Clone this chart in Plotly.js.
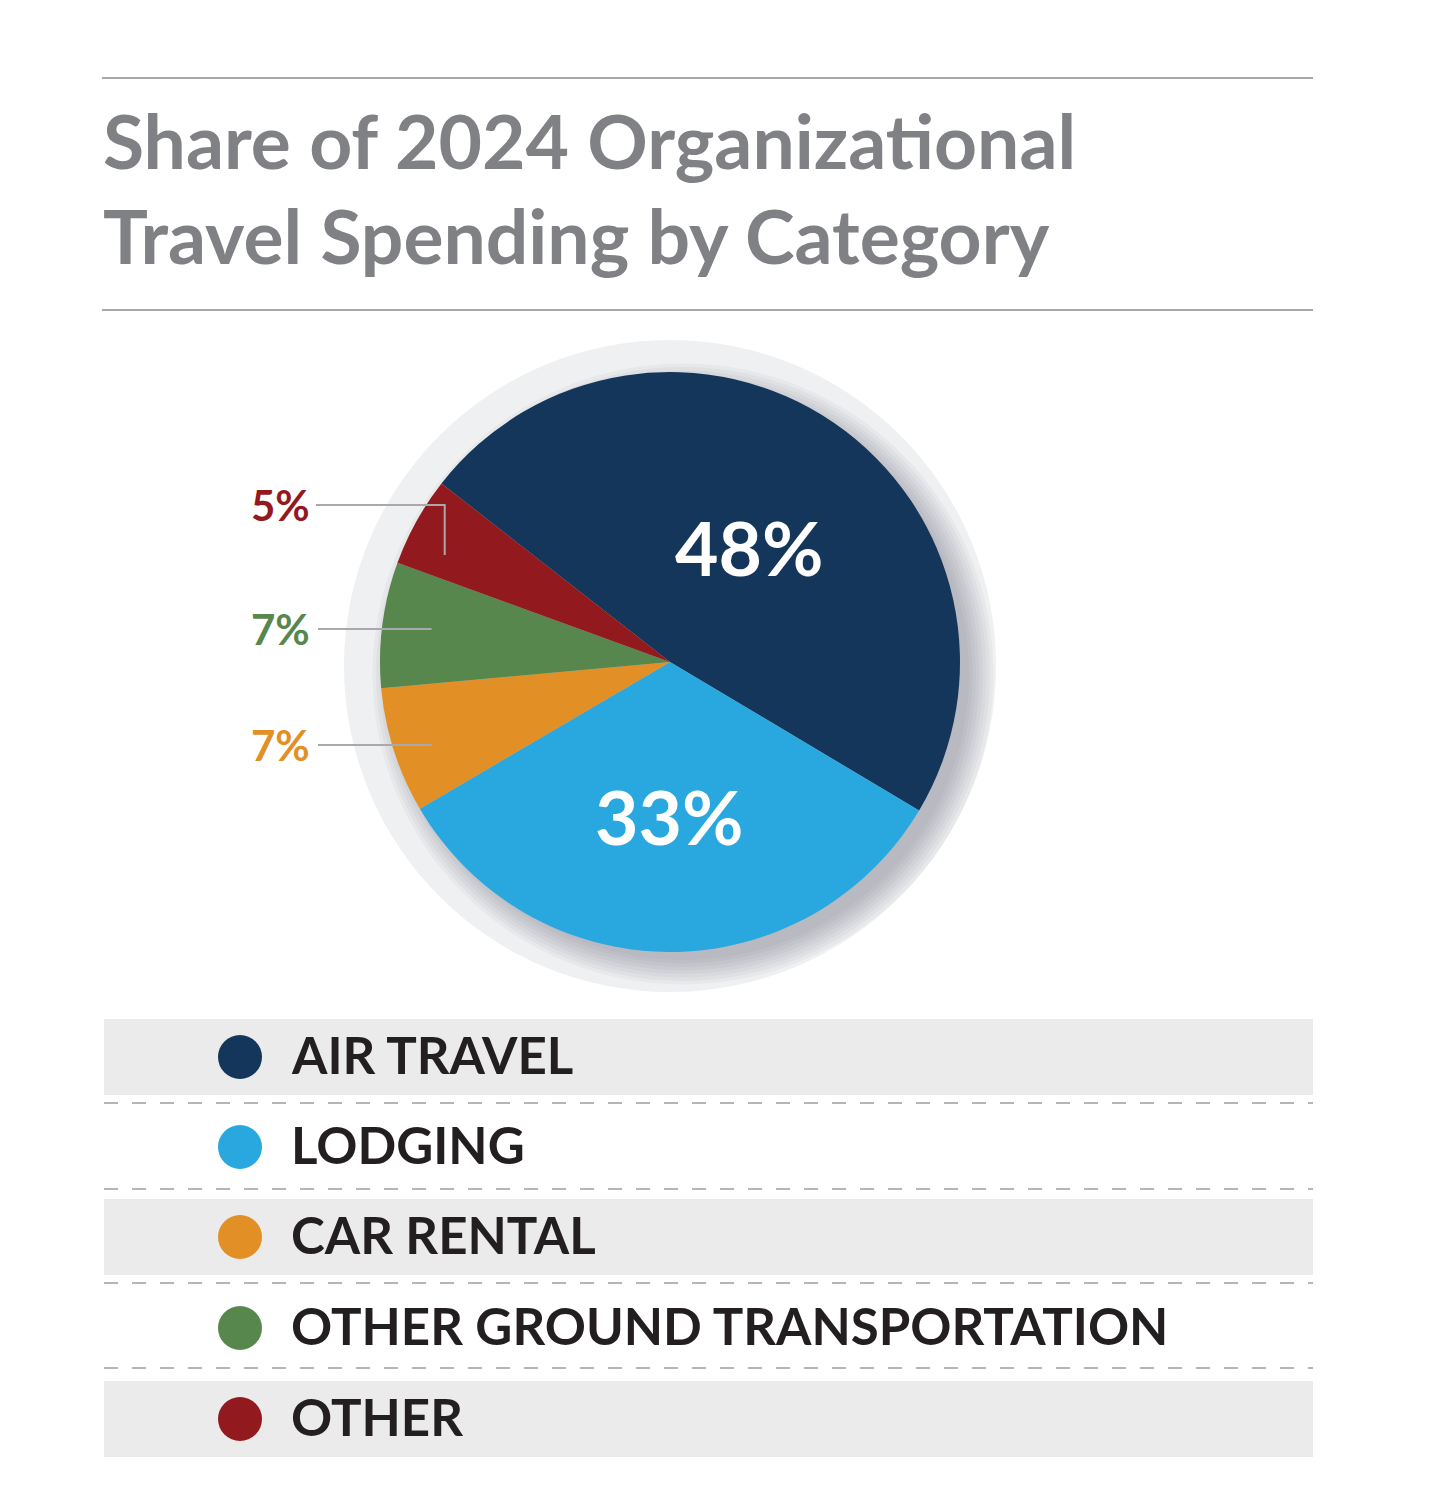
<!DOCTYPE html>
<html>
<head>
<meta charset="utf-8">
<script src="https://cdn.plot.ly/plotly-3.0.1.min.js"></script>
<style>
  html, body { margin:0; padding:0; background:#ffffff; }
  #chart { width:1438px; height:1510px; }
</style>
</head>
<body>
<div id="chart"></div>
<script>
// ---- data ----
const categories = ["Air Travel", "Lodging", "Car Rental", "Other Ground Transportation", "Other"];
const legendLabels = ["AIR TRAVEL", "LODGING", "CAR RENTAL", "OTHER GROUND TRANSPORTATION", "OTHER"];
const shares = [48, 33, 7, 7, 5];
const colors = ["#14365a", "#29a8e0", "#e29026", "#58874e", "#921a1e"];
const titleLines = ["Share of 2024 Organizational", "Travel Spending by Category"];

// ---- layout helpers (pixel -> paper) ----
const W = 1438, H = 1510;
const px = x => x / W;
const py = y => 1 - y / H;

const CX = 670, CY = 662, R = 290;
const rotation = 308;

const shapes = [];
const annotations = [];

// background disc + soft shadow (offset towards bottom-right)
shapes.push({type:'circle', xref:'paper', yref:'paper', layer:'below',
  x0:px(CX-326), x1:px(CX+326), y0:py(666+326), y1:py(666-326),
  fillcolor:'#eff0f1', line:{width:0}});
for (let i = 0; i < 8; i++) {
  const rr = R - 4 + i * 3.5;
  shapes.push({type:'circle', xref:'paper', yref:'paper', layer:'below',
    x0:px(CX+13-rr), x1:px(CX+13+rr), y0:py(CY+12+rr), y1:py(CY+12-rr),
    fillcolor:'rgba(60,62,72,0.04)', line:{width:0}});
}

// title rules
[78, 310].forEach(y => shapes.push({type:'line', xref:'paper', yref:'paper',
  x0:px(102), x1:px(1313), y0:py(y), y1:py(y), line:{color:'#a9a9ab', width:2}}));

// title text
const titleY = [140, 235];
titleLines.forEach((t, i) => annotations.push({xref:'paper', yref:'paper',
  x:px(101), y:py(titleY[i]), xanchor:'left', yanchor:'middle', showarrow:false,
  text:'<b>' + t + '</b>', font:{family:'Lato', size:75, color:'#808185'}}));

// slice angles from data
const total = shares.reduce((a, b) => a + b, 0);
let acc = rotation;
const mids = shares.map(v => { const span = v / total * 360; const m = acc + span / 2; acc += span; return m; });
const pt = (deg, r) => { const a = deg * Math.PI / 180; return [CX + r * Math.sin(a), CY - r * Math.cos(a)]; };

// inside labels (large slices)
const insideFrac = [0.48, 0.53];
[0, 1].forEach(i => {
  const [x, y] = pt(mids[i], R * insideFrac[i]);
  annotations.push({xref:'paper', yref:'paper', x:px(x), y:py(y), showarrow:false,
    xanchor:'center', yanchor:'middle',
    text:'<b>' + shares[i] + '%</b>', font:{family:'Lato', size:75, color:'#ffffff'}});
});

// outside labels with leader lines (small slices)
const leader = {2:{off:-1.4, f:0.87, lift:0}, 3:{off:0.5, f:0.83, lift:0}, 4:{off:-3.6, f:0.86, lift:50}};
[2, 3, 4].forEach(i => {
  const L = leader[i];
  const [ax, ay] = pt(mids[i] + L.off, R * L.f);
  const ly = ay - L.lift;
  if (L.lift > 0) {
    shapes.push({type:'path', xref:'paper', yref:'paper', layer:'above',
      path:`M ${px(316)} ${py(ly)} L ${px(ax)} ${py(ly)} L ${px(ax)} ${py(ay)}`,
      line:{color:'#a9a9ab', width:2}});
  } else {
    shapes.push({type:'line', xref:'paper', yref:'paper', layer:'above',
      x0:px(318), x1:px(ax), y0:py(ly), y1:py(ly), line:{color:'#a9a9ab', width:2}});
  }
  annotations.push({xref:'paper', yref:'paper', x:px(312), y:py(ly), showarrow:false,
    xanchor:'right', yanchor:'middle',
    text:'<b>' + shares[i] + '%</b>', font:{family:'Lato', size:42, color:colors[i]}});
});

// legend table
const rowY = [1057, 1147, 1237, 1328, 1419];
const bandH = 76;
rowY.forEach((y, i) => {
  if (i % 2 === 0) {
    shapes.push({type:'rect', xref:'paper', yref:'paper', layer:'below',
      x0:px(104), x1:px(1313), y0:py(y + bandH / 2), y1:py(y - bandH / 2),
      fillcolor:'#ebebec', line:{width:0}});
  }
  shapes.push({type:'circle', xref:'paper', yref:'paper',
    x0:px(240 - 22), x1:px(240 + 22), y0:py(y + 22), y1:py(y - 22),
    fillcolor:colors[i], line:{width:0}});
  annotations.push({xref:'paper', yref:'paper', x:px(289), y:py(y - 3), showarrow:false,
    xanchor:'left', yanchor:'middle',
    text:'<b>' + legendLabels[i] + '</b>', font:{family:'Lato', size:51, color:'#231f20'}});
});
[1103, 1189, 1283, 1368].forEach(y => shapes.push({type:'line', xref:'paper', yref:'paper',
  x0:px(104), x1:px(1313), y0:py(y), y1:py(y),
  line:{color:'#b5b5b7', width:2, dash:'14px,14px'}}));

const trace = {
  type:'pie',
  labels:categories,
  values:shares,
  marker:{colors:colors, line:{width:0}},
  sort:false,
  direction:'clockwise',
  rotation:rotation,
  textinfo:'none',
  hoverinfo:'label+percent',
  showlegend:false,
  domain:{x:[px(CX - R), px(CX + R)], y:[py(CY + R), py(CY - R)]}
};

const layout = {
  width:W, height:H,
  margin:{l:0, r:0, t:0, b:0},
  paper_bgcolor:'#ffffff',
  plot_bgcolor:'#ffffff',
  showlegend:false,
  shapes:shapes,
  annotations:annotations
};

Plotly.newPlot('chart', [trace], layout, {displayModeBar:false, staticPlot:true});
</script>
</body>
</html>
